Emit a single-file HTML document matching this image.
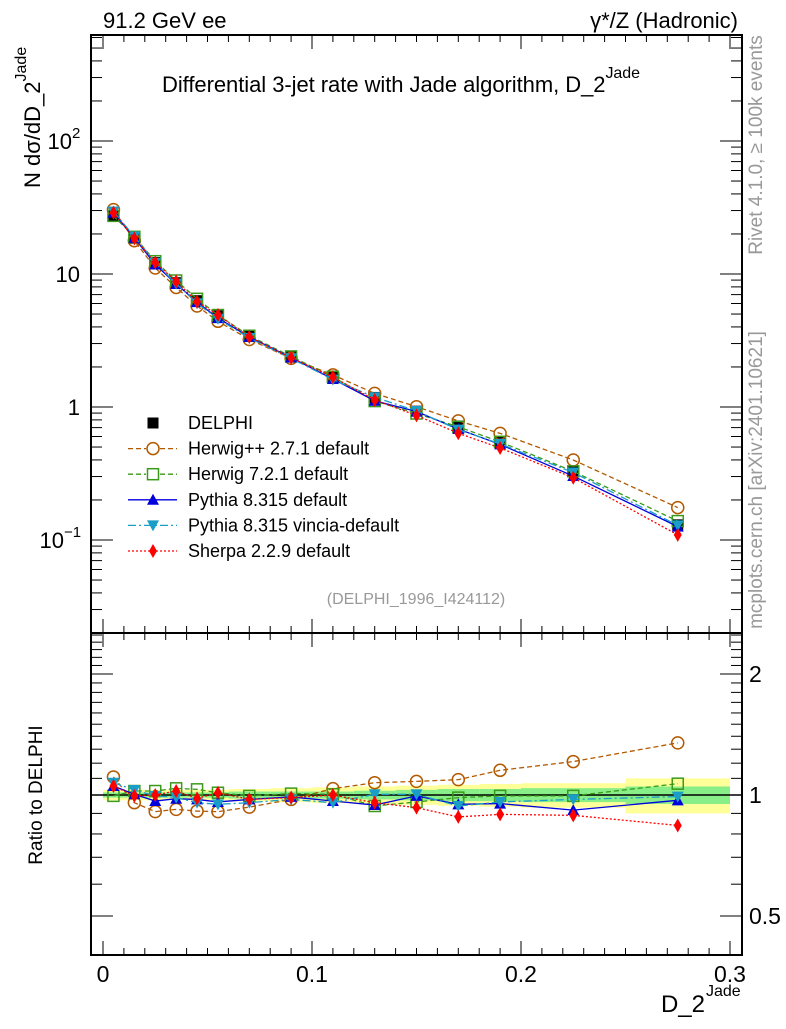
<!DOCTYPE html>
<html><head><meta charset="utf-8"><style>
body{margin:0;background:#fff}
svg text{font-family:"Liberation Sans",sans-serif}
</style></head><body>
<svg id="c" width="786" height="1024" xmlns="http://www.w3.org/2000/svg">
<rect width="786" height="1024" fill="#fff"/>
<g id="bands"></g>
<g id="grid"></g>
<g id="series"></g>
<rect x="91" y="35" width="651" height="598" fill="none" stroke="#000" stroke-width="2"/>
<rect x="91" y="633" width="651" height="322" fill="none" stroke="#000" stroke-width="2"/>
<text x="103" y="28" font-size="22">91.2 GeV ee</text>
<text x="738" y="28" font-size="22" text-anchor="end">γ*/Z (Hadronic)</text>
<text x="162" y="92" font-size="22" textLength="478">Differential 3-jet rate with Jade algorithm, D_2<tspan dy="-14" font-size="16">Jade</tspan></text>
<text transform="translate(40,188) rotate(-90)" font-size="22">N  dσ/dD_2<tspan dy="-14" font-size="16">Jade</tspan></text>
<text transform="translate(42,795) rotate(-90)" font-size="19" text-anchor="middle">Ratio to DELPHI</text>
<text x="705" y="1012" font-size="24" text-anchor="end">D_2</text>
<text x="706" y="996" font-size="16">Jade</text>
<text transform="translate(762,145) rotate(-90)" font-size="19" fill="#999" text-anchor="middle">Rivet 4.1.0, ≥ 100k events</text>
<text transform="translate(762,480) rotate(-90)" font-size="19" fill="#999" text-anchor="middle">mcplots.cern.ch [arXiv:2401.10621]</text>
<text x="416" y="604" font-size="16" fill="#999" text-anchor="middle">(DELPHI_1996_I424112)</text>
<g id="legend"></g>
</svg>
<script>
const xCenters=[0.005,0.015,0.025,0.035,0.045,0.055,0.07,0.09,0.11,0.13,0.15,0.17,0.19,0.225,0.275];
const binEdges=[0,0.01,0.02,0.03,0.04,0.05,0.06,0.08,0.1,0.12,0.14,0.16,0.18,0.2,0.25,0.3];
const delphi=[27.5,18.6,12.2,8.6,6.3,4.85,3.45,2.38,1.68,1.18,0.93,0.72,0.55,0.33,0.13];
const statErr=[0.015,0.015,0.015,0.015,0.015,0.015,0.02,0.02,0.02,0.025,0.03,0.035,0.035,0.04,0.05];
const totErr=[0.03,0.03,0.03,0.03,0.03,0.03,0.035,0.04,0.045,0.05,0.055,0.06,0.065,0.07,0.1];
const rHerwigpp=[1.109,0.957,0.909,0.921,0.912,0.909,0.933,0.975,1.037,1.073,1.081,1.092,1.152,1.211,1.348];
const rHerwig7=[0.995,1.023,1.023,1.039,1.033,1.013,0.995,1.008,1.004,0.939,0.961,0.985,0.995,0.995,1.067];
const rPythia=[1.053,1.004,0.966,0.979,0.975,0.961,0.975,0.989,0.966,0.944,0.995,0.948,0.952,0.917,0.970];
const rVincia=[1.073,1.029,0.995,0.985,0.957,0.948,0.957,0.975,0.957,1.004,1.004,0.939,0.961,0.975,0.991];
const rSherpa=[1.053,0.995,1.0,1.023,0.981,1.013,0.975,0.985,1.0,0.957,0.930,0.882,0.895,0.890,0.840];
const xTicks=[0,0.1,0.2,0.3];
const ratioTicks=[0.5,1,2];

const NS="http://www.w3.org/2000/svg";
const X=v=>103+v*2090, Y=v=>407-133*Math.log10(v), R=v=>795-402*Math.log10(v);
function mk(p,t,a){const e=document.createElementNS(NS,t);for(const k in a)e.setAttribute(k,a[k]);p.appendChild(e);return e;}
const G=id=>document.getElementById(id);
const bands=G('bands'),grid=G('grid'),ser=G('series'),leg=G('legend');
for(let i=0;i<delphi.length;i++){
 const x0=X(binEdges[i]),x1=X(binEdges[i+1]);
 let e=mk(bands,'rect',{x:x0,y:R(1+totErr[i]),width:x1-x0,height:R(1-totErr[i])-R(1+totErr[i]),fill:'#ffff99'});
 
 e=mk(bands,'rect',{x:x0,y:R(1+statErr[i]),width:x1-x0,height:R(1-statErr[i])-R(1+statErr[i]),fill:'#88ee88'});
 
}
let l=mk(grid,'line',{x1:91,x2:742,y1:R(1),y2:R(1),stroke:'#000','stroke-width':1.5});

for(let v=0;v<=0.3001;v+=0.01){const maj=Math.abs(v*10-Math.round(v*10))<1e-6;const len=maj?14:7;
 for(const [yb,dir] of [[633,-1],[35,1],[955,-1],[633,1]]) mk(grid,'line',{x1:X(v),x2:X(v),y1:yb,y2:yb+dir*len,stroke:'#000','stroke-width':1});}
xTicks.forEach(v=>{const t=mk(grid,'text',{x:X(v),y:982,'font-size':23,'text-anchor':'middle'});t.textContent=v===0?'0':v.toFixed(1);
 });
for(let d=-2;d<=2;d++)for(let m=1;m<10;m++){const v=m*Math.pow(10,d);const y=Y(v);if(y<35||y>633)continue;const len=m===1?22:11;
 mk(grid,'line',{x1:91,x2:91+len,y1:y,y2:y,stroke:'#000'});mk(grid,'line',{x1:742,x2:742-len,y1:y,y2:y,stroke:'#000'});}
[[0.1,'10','−1'],[1,'1',''],[10,'10',''],[100,'10','2']].forEach(([v,b,e])=>{const t=mk(grid,'text',{x:e?(e==='2'?72:64):80,y:Y(v)+8,'font-size':22,'text-anchor':'end'});t.textContent=b;
 if(e){const s=mk(grid,'text',{x:e==='2'?72:64,y:Y(v)-3,'font-size':15});s.textContent=e;}
 });
[0.4,0.5,0.6,0.7,0.8,0.9,1,1.1,1.2,1.3,1.4,1.5,1.6,1.7,1.8,1.9,2,2.1,2.2,2.3,2.4,2.5].forEach(v=>{const y=R(v);if(y<633||y>955)return;const maj=[0.5,1,2].includes(v);const len=maj?22:11;
 mk(grid,'line',{x1:91,x2:91+len,y1:y,y2:y,stroke:'#000'});mk(grid,'line',{x1:742,x2:742-len,y1:y,y2:y,stroke:'#000'});});
ratioTicks.forEach(v=>{const t=mk(grid,'text',{x:749,y:R(v)+8,'font-size':23});t.textContent=String(v);
 });
function marker(p,type,x,y,col){
 const s=5.5;let e;
 if(type==='sq')e=mk(p,'rect',{x:x-s,y:y-s,width:2*s,height:2*s,fill:'#000'});
 else if(type==='osq')e=mk(p,'rect',{x:x-s,y:y-s,width:2*s,height:2*s,fill:'none',stroke:col,'stroke-width':1.5});
 else if(type==='oc')e=mk(p,'circle',{cx:x,cy:y,r:6,fill:'none',stroke:col,'stroke-width':1.5});
 else if(type==='tu')e=mk(p,'polygon',{points:`${x},${y-6} ${x-6},${y+5} ${x+6},${y+5}`,fill:col});
 else if(type==='td')e=mk(p,'polygon',{points:`${x},${y+6} ${x-6},${y-5} ${x+6},${y-5}`,fill:col});
 else e=mk(p,'polygon',{points:`${x},${y-7} ${x-4},${y} ${x},${y+7} ${x+4},${y}`,fill:col});
 return e;}
const series=[
 {name:'Herwig++ 2.7.1 default',r:rHerwigpp,col:'#b35900',m:'oc',dash:'5,3',key:'herwigpp'},
 {name:'Herwig 7.2.1 default',r:rHerwig7,col:'#3a9a1a',m:'osq',dash:'5,3',key:'herwig7'},
 {name:'Pythia 8.315 default',r:rPythia,col:'#0000dd',m:'tu',dash:'',key:'pythia'},
 {name:'Pythia 8.315 vincia-default',r:rVincia,col:'#1a9ec8',m:'td',dash:'8,3,2,3',key:'vincia'},
 {name:'Sherpa 2.2.9 default',r:rSherpa,col:'#ff0000',m:'di',dash:'2,2',key:'sherpa'}];
const dm=mk(ser,'g',{});
series.forEach(s=>{
 const pts=xCenters.map((x,i)=>[X(x),Y(delphi[i]*s.r[i])]);
 const rp=xCenters.map((x,i)=>[X(x),R(s.r[i])]);
 [pts,rp].forEach((P,k)=>{
  const g=mk(ser,'g',{});
  mk(g,'polyline',{points:P.map(p=>p.join(',')).join(' '),fill:'none',stroke:s.col,'stroke-width':1.3,'stroke-dasharray':s.dash});
  P.forEach(p=>{const e=marker(g,s.m,p[0],p[1],s.col);});
 });
});
xCenters.forEach((x,i)=>{const e=marker(dm,'sq',X(x),Y(delphi[i]));});
const rows=[{name:'DELPHI',m:'sq',col:'#000',dash:null,key:'delphi'}].concat(series);
rows.forEach((s,i)=>{const y=423+i*25.6;const g=mk(leg,'g',{});
 
 if(s.dash!==null)mk(g,'line',{x1:128,x2:177,y1:y,y2:y,stroke:s.col,'stroke-width':1.3,'stroke-dasharray':s.dash});
 if(s.m==='oc'||s.m==='osq'){mk(g,'rect',{x:146,y:y-7,width:14,height:14,fill:'#fff'});}
 marker(g,s.m,153,y,s.col);
 const t=mk(g,'text',{x:188,y:y+6,'font-size':18});t.textContent=s.name;});
</script>
</body></html>
